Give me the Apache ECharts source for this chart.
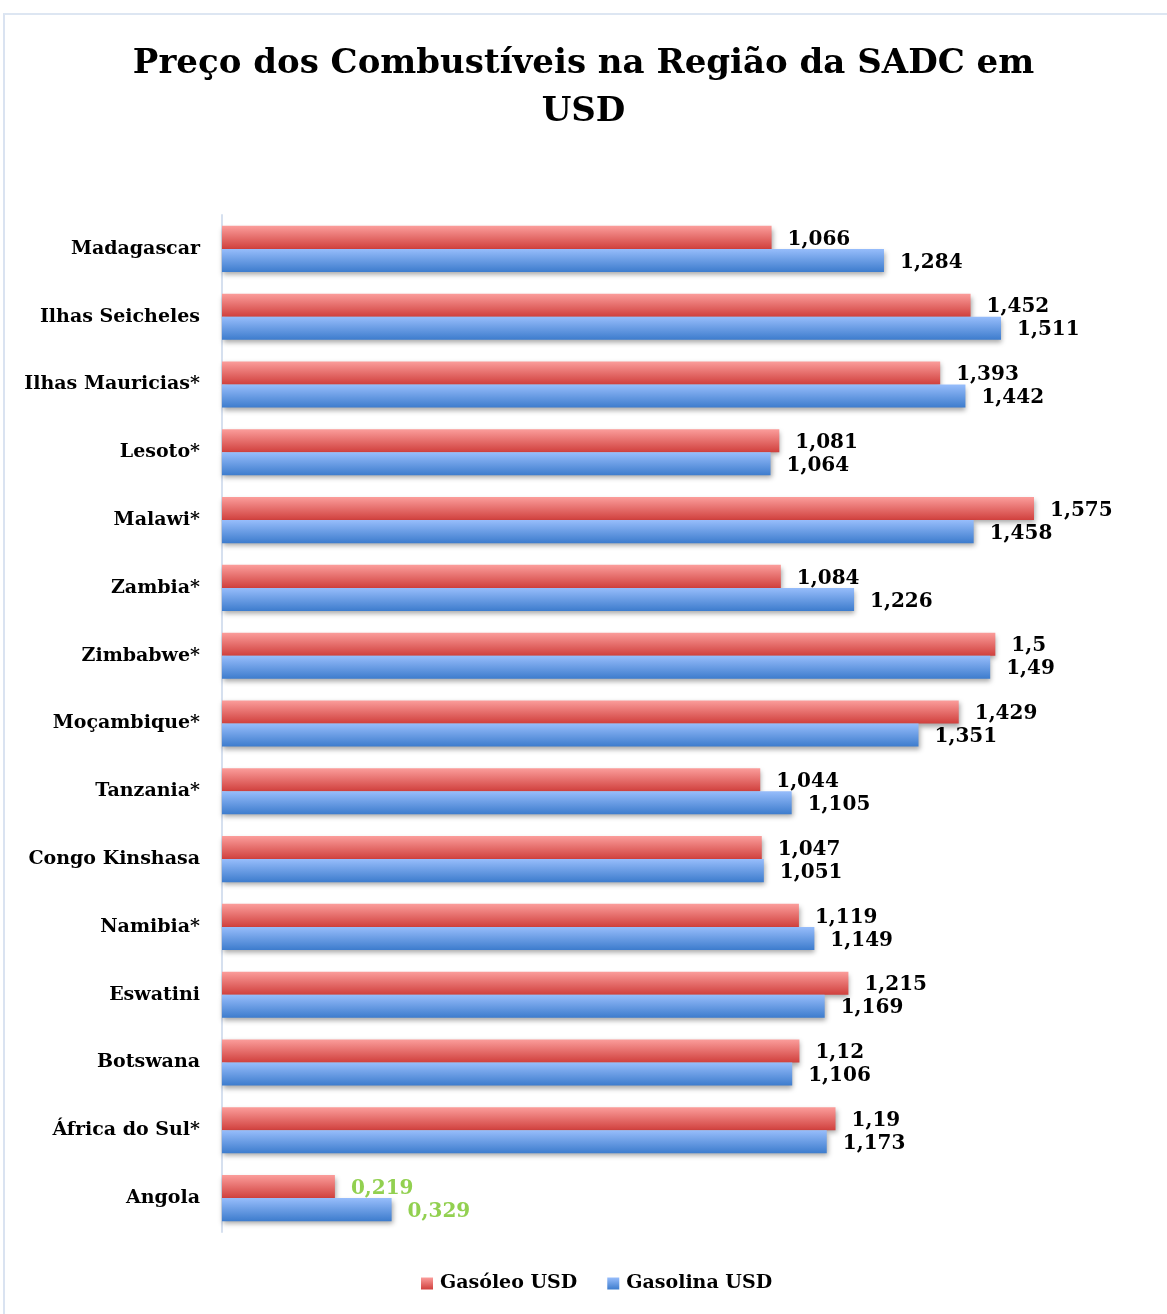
<!DOCTYPE html>
<html>
<head>
<meta charset="utf-8">
<script src="https://cdn.jsdelivr.net/npm/echarts@6/dist/echarts.min.js"></script>
<style>
  html, body { margin: 0; padding: 0; background: #fff; }
  #frame { position: absolute; left: 3px; top: 13px; width: 1180px; height: 1320px;
           border-left: 2px solid #dae3f1; border-top: 2px solid #dde6f2; }
  #chart { position: absolute; left: 0; top: 0; width: 1167px; height: 1314px; }
</style>
</head>
<body>
<div id="frame"></div>
<div id="chart"></div>
<script>
// countries, top to bottom as in the original chart
var countries = ['Madagascar', 'Ilhas Seicheles', 'Ilhas Mauricias*', 'Lesoto*', 'Malawi*',
  'Zambia*', 'Zimbabwe*', 'Moçambique*', 'Tanzania*', 'Congo Kinshasa', 'Namibia*',
  'Eswatini', 'Botswana', 'África do Sul*', 'Angola']
var gasoleo = [1.066, 1.452, 1.393, 1.081, 1.575, 1.084, 1.5, 1.429, 1.044, 1.047, 1.119, 1.215, 1.12, 1.19, 0.219]
var gasolina = [1.284, 1.511, 1.442, 1.064, 1.458, 1.226, 1.49, 1.351, 1.105, 1.051, 1.149, 1.169, 1.106, 1.173, 0.329]
var seriesNames = ['Gasóleo USD', 'Gasolina USD']
var greenLabels = ['Angola']

var serif = 'DejaVu Serif, Liberation Serif, serif'

function grad(top, bottom) {
  return new echarts.graphic.LinearGradient(0, 0, 0, 1, [
    { offset: 0, color: top },
    { offset: 1, color: bottom }
  ])
}
var redFill = grad('#fb9d9b', '#d0403d')
var blueFill = grad('#97bdfb', '#3d7ccd')

function fmt(p) {
  return String(p.value).replace('.', ',')
}

function makeData(vals) {
  return vals.map(function (v, i) {
    if (greenLabels.indexOf(countries[i]) >= 0) {
      return { value: v, label: { color: '#92d050' } }
    }
    return v
  })
}

function barSeries(name, vals, fill) {
  return {
    name: name,
    type: 'bar',
    barGap: '0%',
    barCategoryGap: '32%',
    data: makeData(vals),
    itemStyle: {
      color: fill,
      shadowColor: 'rgba(0,0,0,0.35)',
      shadowBlur: 5,
      shadowOffsetY: 3,
      shadowOffsetX: 1
    },
    label: {
      show: true,
      position: 'right',
      distance: 16,
      offset: [0, 2],
      formatter: fmt,
      color: '#000',
      fontFamily: serif,
      fontWeight: 'bold',
      fontSize: 20
    },
    emphasis: { disabled: true }
  }
}

var chart = echarts.init(document.getElementById('chart'))
chart.setOption({
  animation: false,
  title: {
    text: 'Preço dos Combustíveis na Região da SADC em\nUSD',
    left: 'center',
    top: 35,
    textStyle: {
      fontFamily: serif,
      fontWeight: 'bold',
      fontSize: 34,
      lineHeight: 48,
      color: '#000'
    }
  },
  legend: {
    bottom: 16,
    left: 416,
    itemWidth: 12,
    itemHeight: 12,
    itemGap: 30,
    icon: 'rect',
    textStyle: { fontFamily: serif, fontWeight: 'bold', fontSize: 19, color: '#000', padding: [0, 0, 0, 2] },
    data: seriesNames
  },
  grid: { left: 222, right: 17, top: 215, bottom: 82 },
  xAxis: {
    type: 'value',
    min: 0,
    max: 1.8,
    show: false
  },
  yAxis: {
    type: 'category',
    inverse: true,
    data: countries,
    axisLine: { show: true, lineStyle: { color: '#d6e0ef', width: 2 } },
    axisTick: { show: false },
    axisLabel: {
      margin: 22,
      fontFamily: serif,
      fontWeight: 'bold',
      fontSize: 19,
      color: '#000'
    }
  },
  series: [
    barSeries(seriesNames[0], gasoleo, redFill),
    barSeries(seriesNames[1], gasolina, blueFill)
  ]
})
</script>
</body>
</html>
